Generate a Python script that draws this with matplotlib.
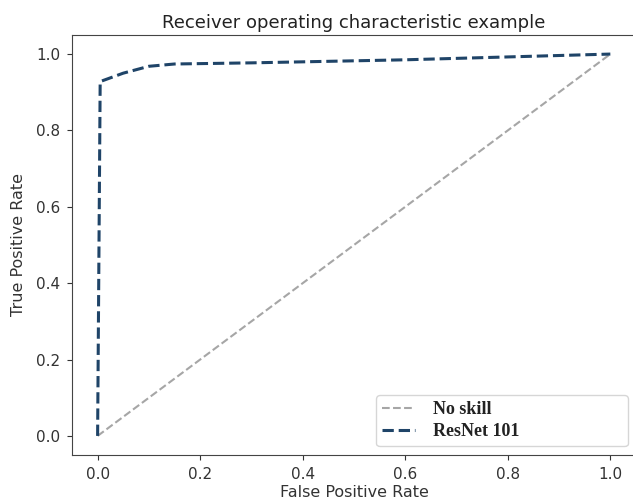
import matplotlib
matplotlib.use("Agg")
import matplotlib.pyplot as plt

# ROC data
noskill_fpr = [0.0, 1.0]
noskill_tpr = [0.0, 1.0]
resnet_fpr = [0.0, 0.005, 0.05, 0.10, 0.15, 0.30, 0.60, 1.0]
resnet_tpr = [0.0, 0.928, 0.950, 0.968, 0.974, 0.977, 0.985, 1.0]

title = "Receiver operating characteristic example"
labels = ["No skill", "ResNet 101"]


def main():
    fig = plt.figure(figsize=(6.33, 5.04), dpi=100)
    ax = fig.add_axes([0.1137, 0.0972, 0.891, 0.8334])

    ax.plot(noskill_fpr, noskill_tpr, linestyle="--", color="#a6a6a6",
            linewidth=1.5, label=labels[0])
    ax.plot(resnet_fpr, resnet_tpr, linestyle="--", color="#1f4468",
            linewidth=2.2, label=labels[1])

    ax.set_xlim(-0.05, 1.05)
    ax.set_ylim(-0.05, 1.05)
    ax.set_xticks([0.0, 0.2, 0.4, 0.6, 0.8, 1.0])
    ax.set_yticks([0.0, 0.2, 0.4, 0.6, 0.8, 1.0])
    ax.tick_params(labelsize=11, colors="#333333", pad=5)
    for s in ax.spines.values():
        s.set_color("#444444")

    ax.set_xlabel("False Positive Rate", fontsize=11.5, color="#333333", labelpad=2)
    ax.set_ylabel("True Positive Rate", fontsize=11.5, color="#333333", labelpad=7)
    ax.set_title(title, fontsize=13, color="#222222", pad=5)

    leg = ax.legend(loc="lower left", bbox_to_anchor=(0.539, 0.021, 0.447, 0.12),
                    mode="expand", borderaxespad=0,
                    prop={"family": "Liberation Serif", "weight": "bold", "size": 13},
                    handlelength=1.8, handletextpad=1.0, labelspacing=0.25,
                    borderpad=0.35)
    for t in leg.get_texts():
        t.set_color("#222222")

    fig.savefig("out.png", dpi=100)


if __name__ == "__main__":
    main()
